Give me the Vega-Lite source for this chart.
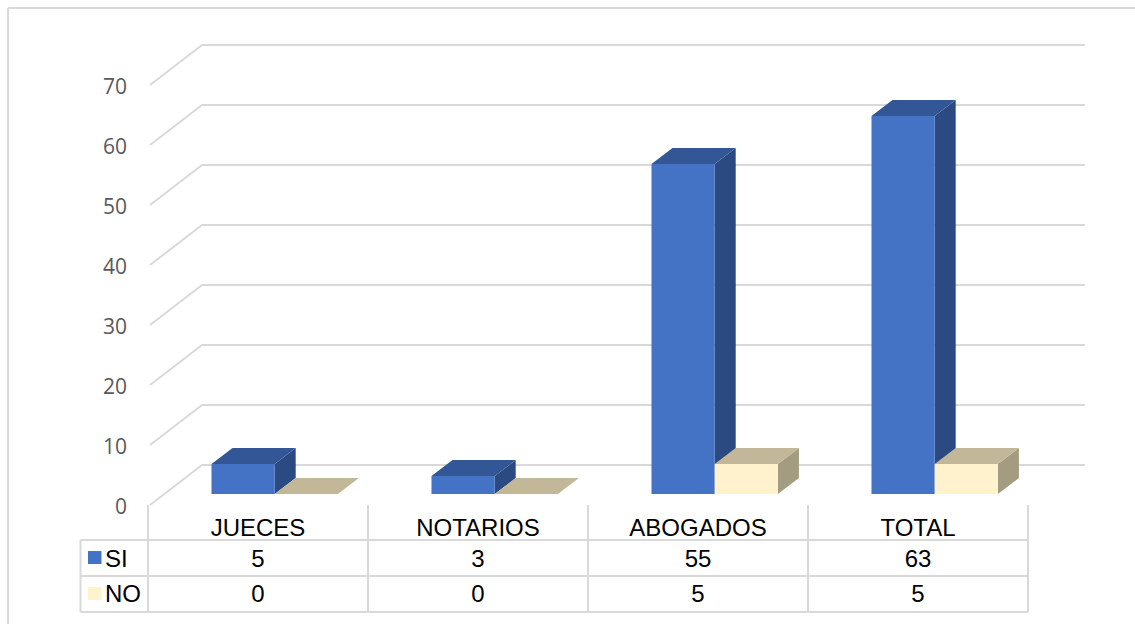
{
"$schema":"https://vega.github.io/schema/vega-lite/v6.json",
"width":1135,"height":624,"padding":0,"autosize":{"type":"none"},"background":"#ffffff",
"config":{"view":{"stroke":null}},
"datasets":{
"barras":[
{"categoria":"JUECES","serie":"SI","valor":5},{"categoria":"NOTARIOS","serie":"SI","valor":3},{"categoria":"ABOGADOS","serie":"SI","valor":55},{"categoria":"TOTAL","serie":"SI","valor":63},
{"categoria":"JUECES","serie":"NO","valor":0},{"categoria":"NOTARIOS","serie":"NO","valor":0},{"categoria":"ABOGADOS","serie":"NO","valor":5},{"categoria":"TOTAL","serie":"NO","valor":5}],
"marcas":[{"marca":0},{"marca":10},{"marca":20},{"marca":30},{"marca":40},{"marca":50},{"marca":60},{"marca":70}],
"vacio":[{"uno":1}]
},
"data":{"name":"barras"},
"transform":[
{"calculate":"indexof(['JUECES','NOTARIOS','ABOGADOS','TOTAL'],datum.categoria)","as":"idx"},
{"calculate":"datum.idx-0.2114+(datum.serie==='NO'?0.2873:0)","as":"izq"},
{"calculate":"datum.izq+0.2873","as":"der"},
{"calculate":"1.83","as":"base"},
{"calculate":"datum.base+datum.valor","as":"tope"},
{"calculate":"[0,1]","as":"k"},
{"flatten":["k"]}
],
"resolve":{"scale":{"color":"independent"}},
"layer":[
{"data":{"name":"vacio"},"mark":{"type":"rule","color":"#D9D9D9","strokeWidth":2},
 "encoding":{"x":{"datum":-1.136,"type":"quantitative","axis":null,"scale":{"domain":[-1.17273,3.98636],"nice":false,"zero":false}},"x2":{"datum":-1.136},
 "y":{"datum":82.83,"type":"quantitative","axis":null,"scale":{"domain":[-19.83,84.17],"nice":false,"zero":false}},"y2":{"datum":-19.83}}},
{"data":{"name":"vacio"},"mark":{"type":"rule","color":"#D9D9D9","strokeWidth":2},
 "encoding":{"x":{"datum":-1.136,"type":"quantitative","axis":null,"scale":{"domain":[-1.17273,3.98636],"nice":false,"zero":false}},"x2":{"datum":3.98636},
 "y":{"datum":82.83,"type":"quantitative","axis":null,"scale":{"domain":[-19.83,84.17],"nice":false,"zero":false}}}},
{"data":{"name":"marcas"},"transform":[{"calculate":"datum.marca+6.667","as":"fondo"}],"mark":{"type":"rule","color":"#D9D9D9","strokeWidth":2},
 "encoding":{"x":{"datum":-0.2545,"type":"quantitative","axis":null,"scale":{"domain":[-1.17273,3.98636],"nice":false,"zero":false}},"x2":{"datum":3.759},
 "y":{"field":"fondo","type":"quantitative","axis":null,"scale":{"domain":[-19.83,84.17],"nice":false,"zero":false}}}},
{"data":{"name":"marcas"},"transform":[{"calculate":"datum.marca+6.667","as":"fondo"}],"mark":{"type":"rule","color":"#D9D9D9","strokeWidth":2},
 "encoding":{"x":{"datum":-0.4909,"type":"quantitative","axis":null,"scale":{"domain":[-1.17273,3.98636],"nice":false,"zero":false}},"x2":{"datum":-0.2545},
 "y":{"field":"marca","type":"quantitative","axis":null,"scale":{"domain":[-19.83,84.17],"nice":false,"zero":false}},"y2":{"field":"fondo"}}},
{"data":{"name":"marcas"},"transform":[{"calculate":"datum.marca-0.5","as":"pos"}],"mark":{"type":"text","align":"right","baseline":"middle","font":"Open Sans","fontSize":21,"color":"#595959"},
 "encoding":{"x":{"datum":-0.5955,"type":"quantitative","axis":null,"scale":{"domain":[-1.17273,3.98636],"nice":false,"zero":false}},
 "y":{"field":"pos","type":"quantitative","axis":null,"scale":{"domain":[-19.83,84.17],"nice":false,"zero":false}},"text":{"field":"marca"}}},
{"transform":[{"calculate":"datum.der+datum.k*0.0955","as":"xl"},{"calculate":"datum.tope+datum.k*2.667","as":"yt"},{"calculate":"datum.base+datum.k*2.667","as":"yb"}],
 "mark":{"type":"area","orient":"vertical"},
 "encoding":{"x":{"field":"xl","type":"quantitative","axis":null,"scale":{"domain":[-1.17273,3.98636],"nice":false,"zero":false}},
 "y":{"field":"yt","type":"quantitative","stack":null,"axis":null,"scale":{"domain":[-19.83,84.17],"nice":false,"zero":false}},"y2":{"field":"yb"},
 "detail":{"field":"categoria"},
 "color":{"field":"serie","type":"nominal","legend":null,"scale":{"domain":["SI","NO"],"range":["#2B4A82","#A39C80"]}}}},
{"transform":[{"calculate":"datum.izq+datum.k*0.0955","as":"xa"},{"calculate":"datum.der+datum.k*0.0955","as":"xb"},{"calculate":"datum.tope+datum.k*2.667","as":"yt"}],
 "mark":{"type":"area","orient":"horizontal"},
 "encoding":{"y":{"field":"yt","type":"quantitative","axis":null,"scale":{"domain":[-19.83,84.17],"nice":false,"zero":false}},
 "x":{"field":"xa","type":"quantitative","stack":null,"axis":null,"scale":{"domain":[-1.17273,3.98636],"nice":false,"zero":false}},"x2":{"field":"xb"},
 "detail":{"field":"categoria"},
 "color":{"field":"serie","type":"nominal","legend":null,"scale":{"domain":["SI","NO"],"range":["#335796","#C2B899"]}}}},
{"transform":[{"filter":"datum.k===0"}],"mark":{"type":"rect"},
 "encoding":{"x":{"field":"izq","type":"quantitative","axis":null,"scale":{"domain":[-1.17273,3.98636],"nice":false,"zero":false}},"x2":{"field":"der"},
 "y":{"field":"tope","type":"quantitative","axis":null,"scale":{"domain":[-19.83,84.17],"nice":false,"zero":false}},"y2":{"field":"base"},
 "color":{"field":"serie","type":"nominal","legend":null,"scale":{"domain":["SI","NO"],"range":["#4472C4","#FFF2CC"]}}}},
{"transform":[{"filter":"datum.k===0 && datum.serie==='SI'"},{"calculate":"datum.idx+0.5","as":"xv"}],"mark":{"type":"rule","color":"#D9D9D9","strokeWidth":2},
 "encoding":{"x":{"field":"xv","type":"quantitative","axis":null,"scale":{"domain":[-1.17273,3.98636],"nice":false,"zero":false}},
 "y":{"datum":0,"type":"quantitative","axis":null,"scale":{"domain":[-19.83,84.17],"nice":false,"zero":false}},"y2":{"datum":-17.83}}},
{"data":{"name":"vacio"},"mark":{"type":"rule","color":"#D9D9D9","strokeWidth":2},
 "encoding":{"x":{"datum":-0.5,"type":"quantitative","axis":null,"scale":{"domain":[-1.17273,3.98636],"nice":false,"zero":false}},
 "y":{"datum":0,"type":"quantitative","axis":null,"scale":{"domain":[-19.83,84.17],"nice":false,"zero":false}},"y2":{"datum":-17.83}}},
{"data":{"name":"vacio"},"mark":{"type":"rule","color":"#D9D9D9","strokeWidth":2},
 "encoding":{"x":{"datum":-0.8068,"type":"quantitative","axis":null,"scale":{"domain":[-1.17273,3.98636],"nice":false,"zero":false}},
 "y":{"datum":-5.83,"type":"quantitative","axis":null,"scale":{"domain":[-19.83,84.17],"nice":false,"zero":false}},"y2":{"datum":-17.83}}},
{"data":{"name":"marcas"},"transform":[{"filter":"datum.marca<30"},{"calculate":"-5.83-datum.marca*0.6","as":"linea"}],"mark":{"type":"rule","color":"#D9D9D9","strokeWidth":2},
 "encoding":{"x":{"datum":-0.8068,"type":"quantitative","axis":null,"scale":{"domain":[-1.17273,3.98636],"nice":false,"zero":false}},"x2":{"datum":3.5},
 "y":{"field":"linea","type":"quantitative","axis":null,"scale":{"domain":[-19.83,84.17],"nice":false,"zero":false}}}},
{"transform":[{"filter":"datum.k===0 && datum.categoria==='JUECES'"},{"calculate":"datum.serie==='SI'?-7.67:-13.67","as":"ka"},{"calculate":"datum.serie==='SI'?-9.83:-15.83","as":"kb"}],"mark":{"type":"rect"},
 "encoding":{"x":{"datum":-0.7727,"type":"quantitative","axis":null,"scale":{"domain":[-1.17273,3.98636],"nice":false,"zero":false}},"x2":{"datum":-0.7114},
 "y":{"field":"ka","type":"quantitative","axis":null,"scale":{"domain":[-19.83,84.17],"nice":false,"zero":false}},"y2":{"field":"kb"},
 "color":{"field":"serie","type":"nominal","legend":null,"scale":{"domain":["SI","NO"],"range":["#4472C4","#FFF2CC"]}}}},
{"transform":[{"filter":"datum.k===0 && datum.categoria==='JUECES'"},{"calculate":"datum.serie==='SI'?-9.2:-15","as":"fila"}],"mark":{"type":"text","align":"left","baseline":"middle","font":"Liberation Sans","fontSize":24,"color":"#000000"},
 "encoding":{"x":{"datum":-0.6955,"type":"quantitative","axis":null,"scale":{"domain":[-1.17273,3.98636],"nice":false,"zero":false}},
 "y":{"field":"fila","type":"quantitative","axis":null,"scale":{"domain":[-19.83,84.17],"nice":false,"zero":false}},"text":{"field":"serie"}}},
{"transform":[{"filter":"datum.k===0"},{"calculate":"datum.serie==='SI'?-9.2:-15","as":"fila"}],"mark":{"type":"text","align":"center","baseline":"middle","font":"Liberation Sans","fontSize":24,"color":"#000000"},
 "encoding":{"x":{"field":"idx","type":"quantitative","axis":null,"scale":{"domain":[-1.17273,3.98636],"nice":false,"zero":false}},
 "y":{"field":"fila","type":"quantitative","axis":null,"scale":{"domain":[-19.83,84.17],"nice":false,"zero":false}},"text":{"field":"valor"}}},
{"transform":[{"filter":"datum.k===0 && datum.serie==='SI'"}],"mark":{"type":"text","align":"center","baseline":"middle","font":"Liberation Sans","fontSize":24,"color":"#000000"},
 "encoding":{"x":{"field":"idx","type":"quantitative","axis":null,"scale":{"domain":[-1.17273,3.98636],"nice":false,"zero":false}},
 "y":{"datum":-4,"type":"quantitative","axis":null,"scale":{"domain":[-19.83,84.17],"nice":false,"zero":false}},"text":{"field":"categoria"}}}
]
}
